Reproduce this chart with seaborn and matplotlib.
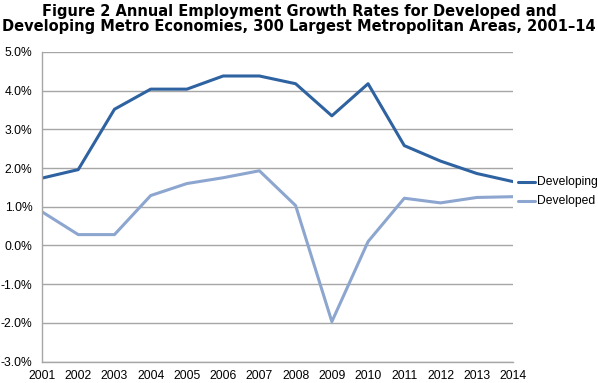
import matplotlib
matplotlib.use("Agg")
import matplotlib.pyplot as plt
import seaborn as sns
import pandas as pd
from matplotlib.ticker import FuncFormatter

years = [2001, 2002, 2003, 2004, 2005, 2006, 2007, 2008, 2009, 2010, 2011, 2012, 2013, 2014]
developing = [1.74, 1.96, 3.52, 4.04, 4.04, 4.38, 4.38, 4.18, 3.35, 4.18, 2.58, 2.18, 1.86, 1.65]
developed = [0.87, 0.28, 0.28, 1.29, 1.60, 1.75, 1.93, 1.03, -1.97, 0.10, 1.22, 1.10, 1.24, 1.26]
series_names = ["Developing", "Developed"]
colors = {"Developing": "#2e62a0", "Developed": "#8da6d0"}

df = pd.DataFrame({
    "year": years * 2,
    "value": developing + developed,
    "series": [series_names[0]] * len(years) + [series_names[1]] * len(years),
})

sns.set_style("white")
plt.rcParams['font.family'] = ['Liberation Sans', 'DejaVu Sans']
plt.rcParams['text.color'] = 'black'

fig = plt.figure(figsize=(5.98, 3.83), dpi=100)
ax = fig.add_axes([42/598, 1 - 361.5/383, (513-42)/598, (361.5-52)/383])

sns.lineplot(data=df, x="year", y="value", hue="series", palette=colors,
             linewidth=2.2, ax=ax, legend=False)

ax.set_xlim(2001, 2014)
ax.set_ylim(-3, 5)
ax.set_yticks(range(-3, 6))
ax.yaxis.set_major_formatter(FuncFormatter(lambda v, p: f"{v:.1f}%"))
ax.set_xticks(years)
ax.set_xticklabels([str(y) for y in years])
ax.grid(axis="y", color="#a6a6a6", linewidth=1)
ax.set_axisbelow(True)
for s in ["top", "right"]:
    ax.spines[s].set_visible(False)
for s in ["left", "bottom"]:
    ax.spines[s].set_color("#a6a6a6")
    ax.spines[s].set_linewidth(1)
ax.tick_params(axis="y", length=4, color="#a6a6a6", labelsize=8.7, pad=3)
ax.tick_params(axis="x", length=0, labelsize=8.7, pad=6)
ax.set_xlabel("")
ax.set_ylabel("")
for lbl in ax.get_xticklabels() + ax.get_yticklabels():
    lbl.set_color("#000000")

# inline legend
for name, vals in [("Developing", developing), ("Developed", developed)]:
    yv = vals[-1] if name == "Developing" else vals[-1] - 0.1
    ax.plot([2014.14, 2014.6], [yv, yv], color=colors[name], linewidth=2.2, clip_on=False)
    ax.text(2014.65, yv, name, fontsize=8.7, va="center", ha="left", color="black")

fig.text(0.5, 0.99, "Figure 2 Annual Employment Growth Rates for Developed and\n"
         "Developing Metro Economies, 300 Largest Metropolitan Areas, 2001\u201314",
         ha="center", va="top", fontsize=10.5, fontweight="bold", linespacing=1.05,
         family=["DejaVu Sans"], color="black")

fig.savefig("out.png", dpi=100)
